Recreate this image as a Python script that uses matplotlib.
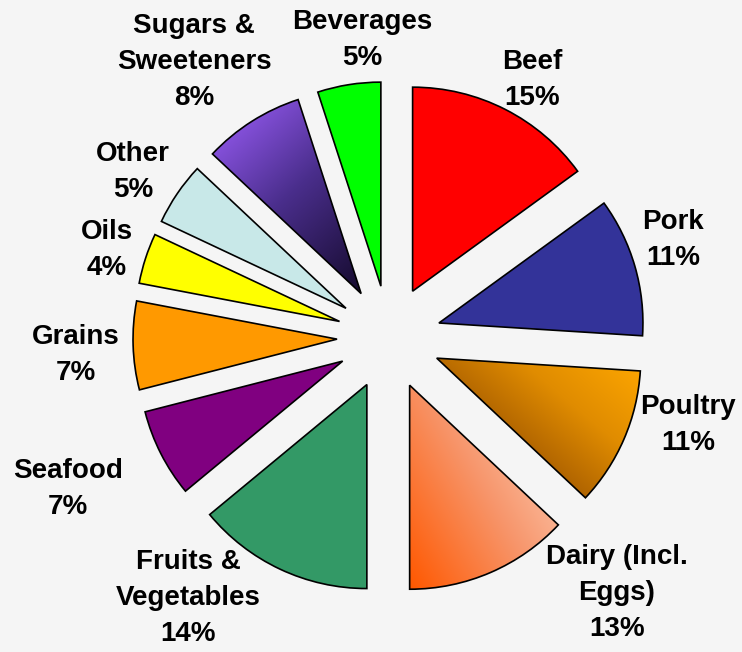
import numpy as np
import matplotlib
matplotlib.use("Agg")
import matplotlib.pyplot as plt
from matplotlib.colors import LinearSegmentedColormap

# Share of food spending by category (percent), clockwise from the top
categories = ["Beef", "Pork", "Poultry", "Dairy (Incl.\nEggs)", "Fruits &\nVegetables",
              "Seafood", "Grains", "Oils", "Other", "Sugars &\nSweeteners", "Beverages"]
shares = [15, 11, 11, 13, 14, 7, 7, 4, 5, 8, 5]

colors = ["#FF0000", "#333399", "#D08000", "#FF9A6A", "#339966", "#800080",
          "#FF9900", "#FFFF00", "#C8E8E8", "#5B3AA8", "#00FF00"]

# Shaded slices: colour stops and the direction (degrees) the ramp runs toward
gradients = {
    "Poultry": (["#6A3300", "#A45A00", "#E08C00", "#FFA800"], 50),
    "Dairy (Incl.\nEggs)": (["#FF5800", "#F7966C", "#FFDAC6"], 30),
    "Sugars &\nSweeteners": (["#A060FF", "#4A2E8C", "#140A2C"], -48),
}

# Canvas in pixel units (y measured from the top for label placement)
W, H = 742, 652
center = (389, H - 337.5)
radius = 204
explode = 52

# Label anchors (pixel x, pixel y from top)
label_xy = [(532, 80), (673, 240), (688, 425), (617, 593), (188, 598),
            (68, 489), (76, 355), (107, 250), (133, 172), (194, 62), (362, 40)]

bg = "#F5F5F5"
fig = plt.figure(figsize=(W / 100, H / 100), dpi=100, facecolor=bg)
ax = fig.add_axes([0, 0, 1, 1])
ax.set_facecolor(bg)

wedges, _ = ax.pie(shares, colors=colors, startangle=90, counterclock=False,
                   explode=[explode] * len(shares), radius=radius, center=center,
                   wedgeprops=dict(edgecolor="black", linewidth=1.2), frame=False)


def fill_gradient(wedge, stops, angle):
    verts = wedge.get_path().vertices
    x0, y0 = verts.min(axis=0)
    x1, y1 = verts.max(axis=0)
    xs = np.linspace(x0, x1, 300)
    ys = np.linspace(y0, y1, 300)
    X, Y = np.meshgrid(xs, ys)
    a = np.radians(angle)
    proj = X * np.cos(a) + Y * np.sin(a)
    t = (proj - proj.min()) / (proj.max() - proj.min())
    cmap = LinearSegmentedColormap.from_list("ramp", stops)
    im = ax.imshow(t, cmap=cmap, extent=(x0, x1, y0, y1), origin="lower",
                   interpolation="bilinear", zorder=0.9)
    im.set_clip_path(wedge)
    wedge.set_facecolor("none")


for w, name in zip(wedges, categories):
    w.set_zorder(1)
    if name in gradients:
        stops, ang = gradients[name]
        fill_gradient(w, stops, ang)

for name, share, (px, py) in zip(categories, shares, label_xy):
    ax.text(px, H - py, f"{name}\n{share}%", ha="center", va="center",
            multialignment="center", fontsize=20, fontweight="bold",
            family=["Liberation Sans", "DejaVu Sans"], linespacing=1.5,
            color="black", zorder=3)

ax.set_xlim(0, W)
ax.set_ylim(0, H)
ax.set_aspect("equal")
ax.axis("off")

fig.savefig("out.png", dpi=100, facecolor=bg)
